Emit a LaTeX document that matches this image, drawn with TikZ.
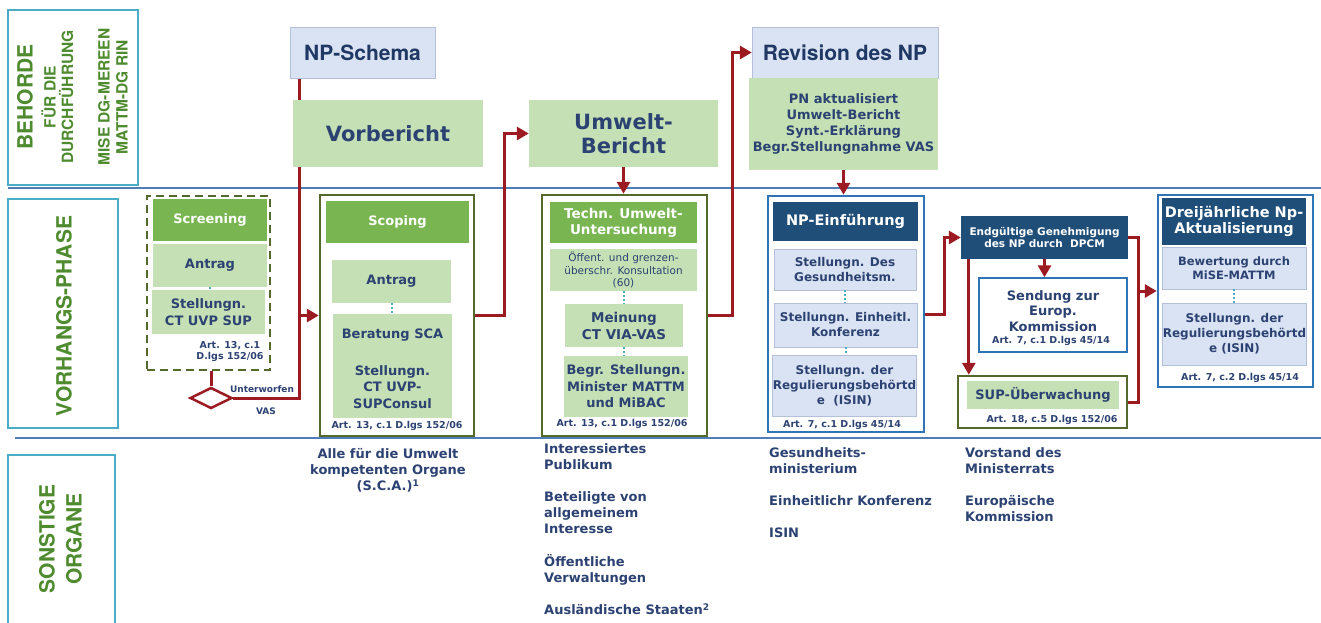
\documentclass[tikz,border=0pt]{standalone}
\usepackage{fontspec}
\setmainfont{DejaVu Sans}
\newfontfamily\arialbold{texgyreheros-bold.otf}
\usetikzlibrary{shapes.geometric,arrows.meta,positioning,calc,backgrounds}

\definecolor{cnavy}{HTML}{2C4272}
\definecolor{cdnavy}{HTML}{1F3864}
\definecolor{clgreen}{HTML}{C5E0B4}
\definecolor{cmgreen}{HTML}{79B551}
\definecolor{cdblue}{HTML}{1F4E79}
\definecolor{clblue}{HTML}{DAE3F3}
\definecolor{clbline}{HTML}{B4BFD9}
\definecolor{colive}{HTML}{56692D}
\definecolor{cbblue}{HTML}{2E75B6}
\definecolor{cdred}{HTML}{9C1B22}
\definecolor{cteal}{HTML}{4BACC6}
\definecolor{clane}{HTML}{4F7DB8}
\definecolor{clabel}{HTML}{4E8B2E}

\newcommand{\fsz}[2]{\fontsize{#1}{#2}\selectfont}

\tikzset{
  plainbox/.style={inner sep=0pt, align=center, text=cnavy},
  sz/.style 2 args={minimum width=#1, minimum height=#2},
  lgbox/.style={plainbox, fill=clgreen, font=\bfseries\fsz{13}{16.5}},
  ghead/.style={plainbox, fill=cmgreen, text=white, font=\bfseries\fsz{13}{16}},
  bhead/.style={plainbox, fill=cdblue, text=white},
  lbbox/.style={plainbox, fill=clblue, draw=clbline, line width=0.8pt, font=\bfseries\fsz{12}{15}},
  bluebox/.style={plainbox, fill=clblue, draw=clbline, text=cdnavy, font=\arialbold\fsz{21}{24}},
  grpg/.style={draw=colive, line width=2.5pt, inner sep=0pt},
  grpb/.style={draw=cbblue, line width=2.5pt, inner sep=0pt},
  scrgrp/.style={draw=colive, line width=2.5pt, dash pattern=on 8pt off 5pt, inner sep=0pt},
  sendbox/.style={draw=cbblue, line width=1.5pt, fill=white, inner sep=0pt},
  arttext/.style={text=cnavy, align=center, inner sep=0pt, font=\bfseries\fsz{9.5}{11}},
  navytext/.style={text=cnavy, align=center, inner sep=0pt},
  orgtext/.style={text=cnavy, align=left, inner sep=0pt, font=\bfseries\fsz{13}{16.2}},
  lbltext/.style={text=clabel, rotate=90, align=center, inner sep=0pt},
  lblbox/.style={draw=cteal, line width=1.5pt},
  lane/.style={draw=clane, line width=2.5pt},
  redline/.style={draw=cdred, line width=3pt},
  redarrow/.style={redline, -{Triangle[length=12pt,width=13pt]}},
  dotcon/.style={draw=cteal, line width=2pt, dotted},
}

\begin{document}
\begin{tikzpicture}[x=1pt,y=-1pt]
  \useasboundingbox (0,0) rectangle (1321,622);

  % lanes
  \begin{scope}[on background layer]
    \draw[lane] (8,188) -- (1321,188);
    \draw[lane] (15,438) -- (1321,438);
  \end{scope}

  % row labels
  \draw[lblbox] (8,10) rectangle (138,185);
  \draw[lblbox] (8,199) rectangle (118,428);
  \draw[lblbox] (8,455) rectangle (115,630);
  \node[lbltext, font=\arialbold\fsz{21}{24}] (behorde) at (25,97) {BEHORDE};
  \node[lbltext, font=\arialbold\fsz{15.5}{17.5}] (fuer) at (57.5,97) {FÜR DIE\\DURCHFÜHRUNG};
  \node[lbltext, font=\arialbold\fsz{15.5}{18}] (mise) at (113,97) {MISE DG-MEREEN\\MATTM-DG RIN};
  \node[lbltext, font=\arialbold\fsz{21}{24}] (vorh) at (64,316) {VORHANGS-PHASE};
  \node[lbltext, font=\arialbold\fsz{21}{27}] (sonst) at (60.5,539) {SONSTIGE\\ORGANE};

  % top row
  \node[bluebox, sz={145}{51}] (schema) at (362.5,52.5) {NP-Schema};
  \node[lgbox, sz={190}{67}, font=\bfseries\fsz{21}{24}] (vorb) at (388,133.5) {Vorbericht};
  \node[lgbox, sz={189}{67}, font=\bfseries\fsz{21}{24}] (umwb) at (623.5,133.5) {Umwelt-\\Bericht};
  \node[bluebox, sz={186}{51}] (revis) at (845,52.5) {Revision des NP};
  \node[lgbox, sz={189}{92}, font=\bfseries\fsz{13}{16.3}] (pnakt) at (843.5,124) {PN aktualisiert\\Umwelt-Bericht\\Synt.-Erklärung\\Begr.Stellungnahme VAS};

  % screening
  \node[scrgrp, sz={123}{174}] (scr) at (208.5,283) {};
  \node[ghead, sz={114}{42}] (scrhead) at (210,220) {Screening};
  \node[lgbox, sz={114}{43}] (scrantrag) at (210,265.5) {Antrag};
  \node[lgbox, sz={113}{44}] (scrstell) at (208.5,312) {Stellungn.\\CT UVP SUP};
  \node[arttext] (scrart) at (230,351) {Art. 13, c.1\\D.lgs 152/06};
  \node[diamond, draw=cdred, fill=white, line width=2.5pt, aspect=2, minimum width=42, minimum height=21, inner sep=0pt] (vasdia) at (211,398) {};
  \node[arttext, font=\bfseries\fsz{9}{11}] (unterw) at (262,389) {Unterworfen};
  \node[arttext, font=\bfseries\fsz{9}{11}] (vas) at (266,411) {VAS};

  % scoping
  \node[grpg, sz={154}{241}] (scop) at (397,315.5) {};
  \node[ghead, sz={143}{42}] (scophead) at (397.5,222) {Scoping};
  \node[lgbox, sz={119}{43}] (scopantrag) at (391.5,281.5) {Antrag};
  \node[lgbox, sz={119}{42}] (scopber) at (392.5,335) {Beratung SCA};
  \node[lgbox, sz={119}{62}] (scopstell) at (392.5,387) {Stellungn.\\CT UVP-\\SUPConsul};
  \node[arttext] (scopart) at (397,426) {Art. 13, c.1 D.lgs 152/06};

  % umwelt
  \node[grpg, sz={165}{241}] (umw) at (624.5,315.5) {};
  \node[ghead, sz={147}{41}, font=\bfseries\fsz{13.5}{16}] (umwhead) at (623.5,222.5) {Techn. Umwelt-\\Untersuchung};
  \node[lgbox, sz={147}{42}, font=\fsz{10.5}{12.5}] (umwkons) at (623.5,270) {Öffent. und grenzen-\\überschr. Konsultation\\(60)};
  \node[lgbox, sz={118}{43}, font=\bfseries\fsz{13.5}{17}] (umwmein) at (624,325.5) {Meinung\\CT VIA-VAS};
  \node[lgbox, sz={124}{61}] (umwbegr) at (626,386.5) {Begr. Stellungn.\\Minister MATTM\\und MiBAC};
  \node[arttext] (umwart) at (622,424) {Art. 13, c.1 D.lgs 152/06};

  % NP-Einfuehrung
  \node[grpb, sz={156}{236}] (npe) at (846,314) {};
  \node[bhead, sz={145}{39}, font=\bfseries\fsz{14.5}{17}] (npehead) at (845.5,221.5) {NP-Einführung};
  \node[lbbox, sz={142}{41}] (npeges) at (845,269.5) {Stellungn. Des\\Gesundheitsm.};
  \node[lbbox, sz={143}{44}] (npekonf) at (845.5,325) {Stellungn. Einheitl.\\Konferenz};
  \node[lbbox, sz={141}{61}] (npeisin) at (844.5,385.5) {Stellungn. der\\Regulierungsbehörtd\\e\ \ (ISIN)};
  \node[arttext] (npeart) at (842,425) {Art. 7, c.1 D.lgs 45/14};

  % Genehmigung
  \node[bhead, sz={167}{43}, font=\bfseries\fsz{10.5}{12.5}] (endg) at (1044.5,237.5) {Endgültige Genehmigung\\des NP durch\ \ DPCM};
  \node[sendbox, sz={148}{74}] (send) at (1053,315) {};
  \node[navytext, font=\bfseries\fsz{13}{15.5}] (sendtxt) at (1053,311) {Sendung zur\\Europ.\\Kommission};
  \node[arttext] (sendart) at (1051,341) {Art. 7, c.1 D.lgs 45/14};
  \node[grpg, sz={169}{52}] (sup) at (1042.5,402) {};
  \node[lgbox, sz={152}{28}] (supin) at (1043,395) {SUP-Überwachung};
  \node[arttext] (supart) at (1052,420) {Art. 18, c.5 D.lgs 152/06};

  % Dreijaehrliche
  \node[grpb, sz={155}{192}] (drei) at (1235.5,291) {};
  \node[bhead, sz={144}{47}, font=\bfseries\fsz{14.5}{16}] (dreihead) at (1234,221.5) {Dreijährliche Np-\\Aktualisierung};
  \node[lbbox, sz={144}{42}, font=\bfseries\fsz{11.5}{14}] (dreibew) at (1234,268) {Bewertung durch\\MiSE-MATTM};
  \node[lbbox, sz={143}{62}] (dreiisin) at (1234.5,334) {Stellungn. der\\Regulierungsbehörtd\\e (ISIN)};
  \node[arttext] (dreiart) at (1240,378) {Art. 7, c.2 D.lgs 45/14};

  % dotted links
  \draw[dotcon] (scrantrag.south) -- (scrantrag.south |- scrstell.north);
  \draw[dotcon] (scopantrag.south) -- (scopantrag.south |- scopber.north);
  \draw[dotcon] (umwkons.south) -- (umwkons.south |- umwmein.north);
  \draw[dotcon] (umwmein.south) -- (umwmein.south |- umwbegr.north);
  \draw[dotcon] (npeges.south) -- (npeges.south |- npekonf.north);
  \draw[dotcon] (npekonf.south) -- (npekonf.south |- npeisin.north);
  \draw[dotcon] (dreibew.south) -- (dreibew.south |- dreiisin.north);

  % other bodies
  \node[orgtext, align=center, anchor=north] (sca) at (388,448) {Alle für die Umwelt\\kompetenten Organe\\(S.C.A.)\textsuperscript{1}};
  \node[orgtext, anchor=north west] (publ) at (544,443) {Interessiertes\\Publikum\\[16pt]Beteiligte von\\allgemeinem\\Interesse\\[16pt]Öffentliche\\Verwaltungen\\[16pt]Ausländische Staaten\textsuperscript{2}};
  \node[orgtext, anchor=north west] (gesmin) at (769,447) {Gesundheits-\\ministerium\\[16pt]Einheitlichr Konferenz\\[16pt]ISIN};
  \node[orgtext, anchor=north west] (vorst) at (965,447) {Vorstand des\\Ministerrats\\[16pt]Europäische\\Kommission};

  % connectors
  \begin{scope}[on background layer]
    \coordinate (jn) at ($(schema.south west)+(10,0)$);
    \draw[redline] (jn) |- (vasdia.east);
    \draw[redline] (vasdia.north) -- (vasdia.north |- scr.south);
    \draw[redarrow] (jn |- scop.west) -- (scop.west);
    \draw[redarrow] (scop.east) -- ++(29,0) |- (umwb.west);
    \draw[redarrow] (umwb.south) -- (umwb.south |- umw.north);
    \draw[redarrow] (umw.east) -- ++(24,0) |- (revis.west);
    \draw[redarrow] (pnakt.south) -- (pnakt.south |- npe.north);
    \draw[redarrow] (npe.east) -- ++(19,0) |- (endg.west);
    \draw[redarrow] (endg.south) -- (endg.south |- send.north);
    \coordinate (ek) at ($(endg.south west)+(8,0)$);
    \draw[redarrow] (ek) -- (ek |- sup.north);
    \draw[redline] (endg.east) -- ++(10,0) coordinate (ej) |- (sup.east);
    \draw[redarrow] (ej |- drei.west) -- (drei.west);
  \end{scope}
\end{tikzpicture}
\end{document}
